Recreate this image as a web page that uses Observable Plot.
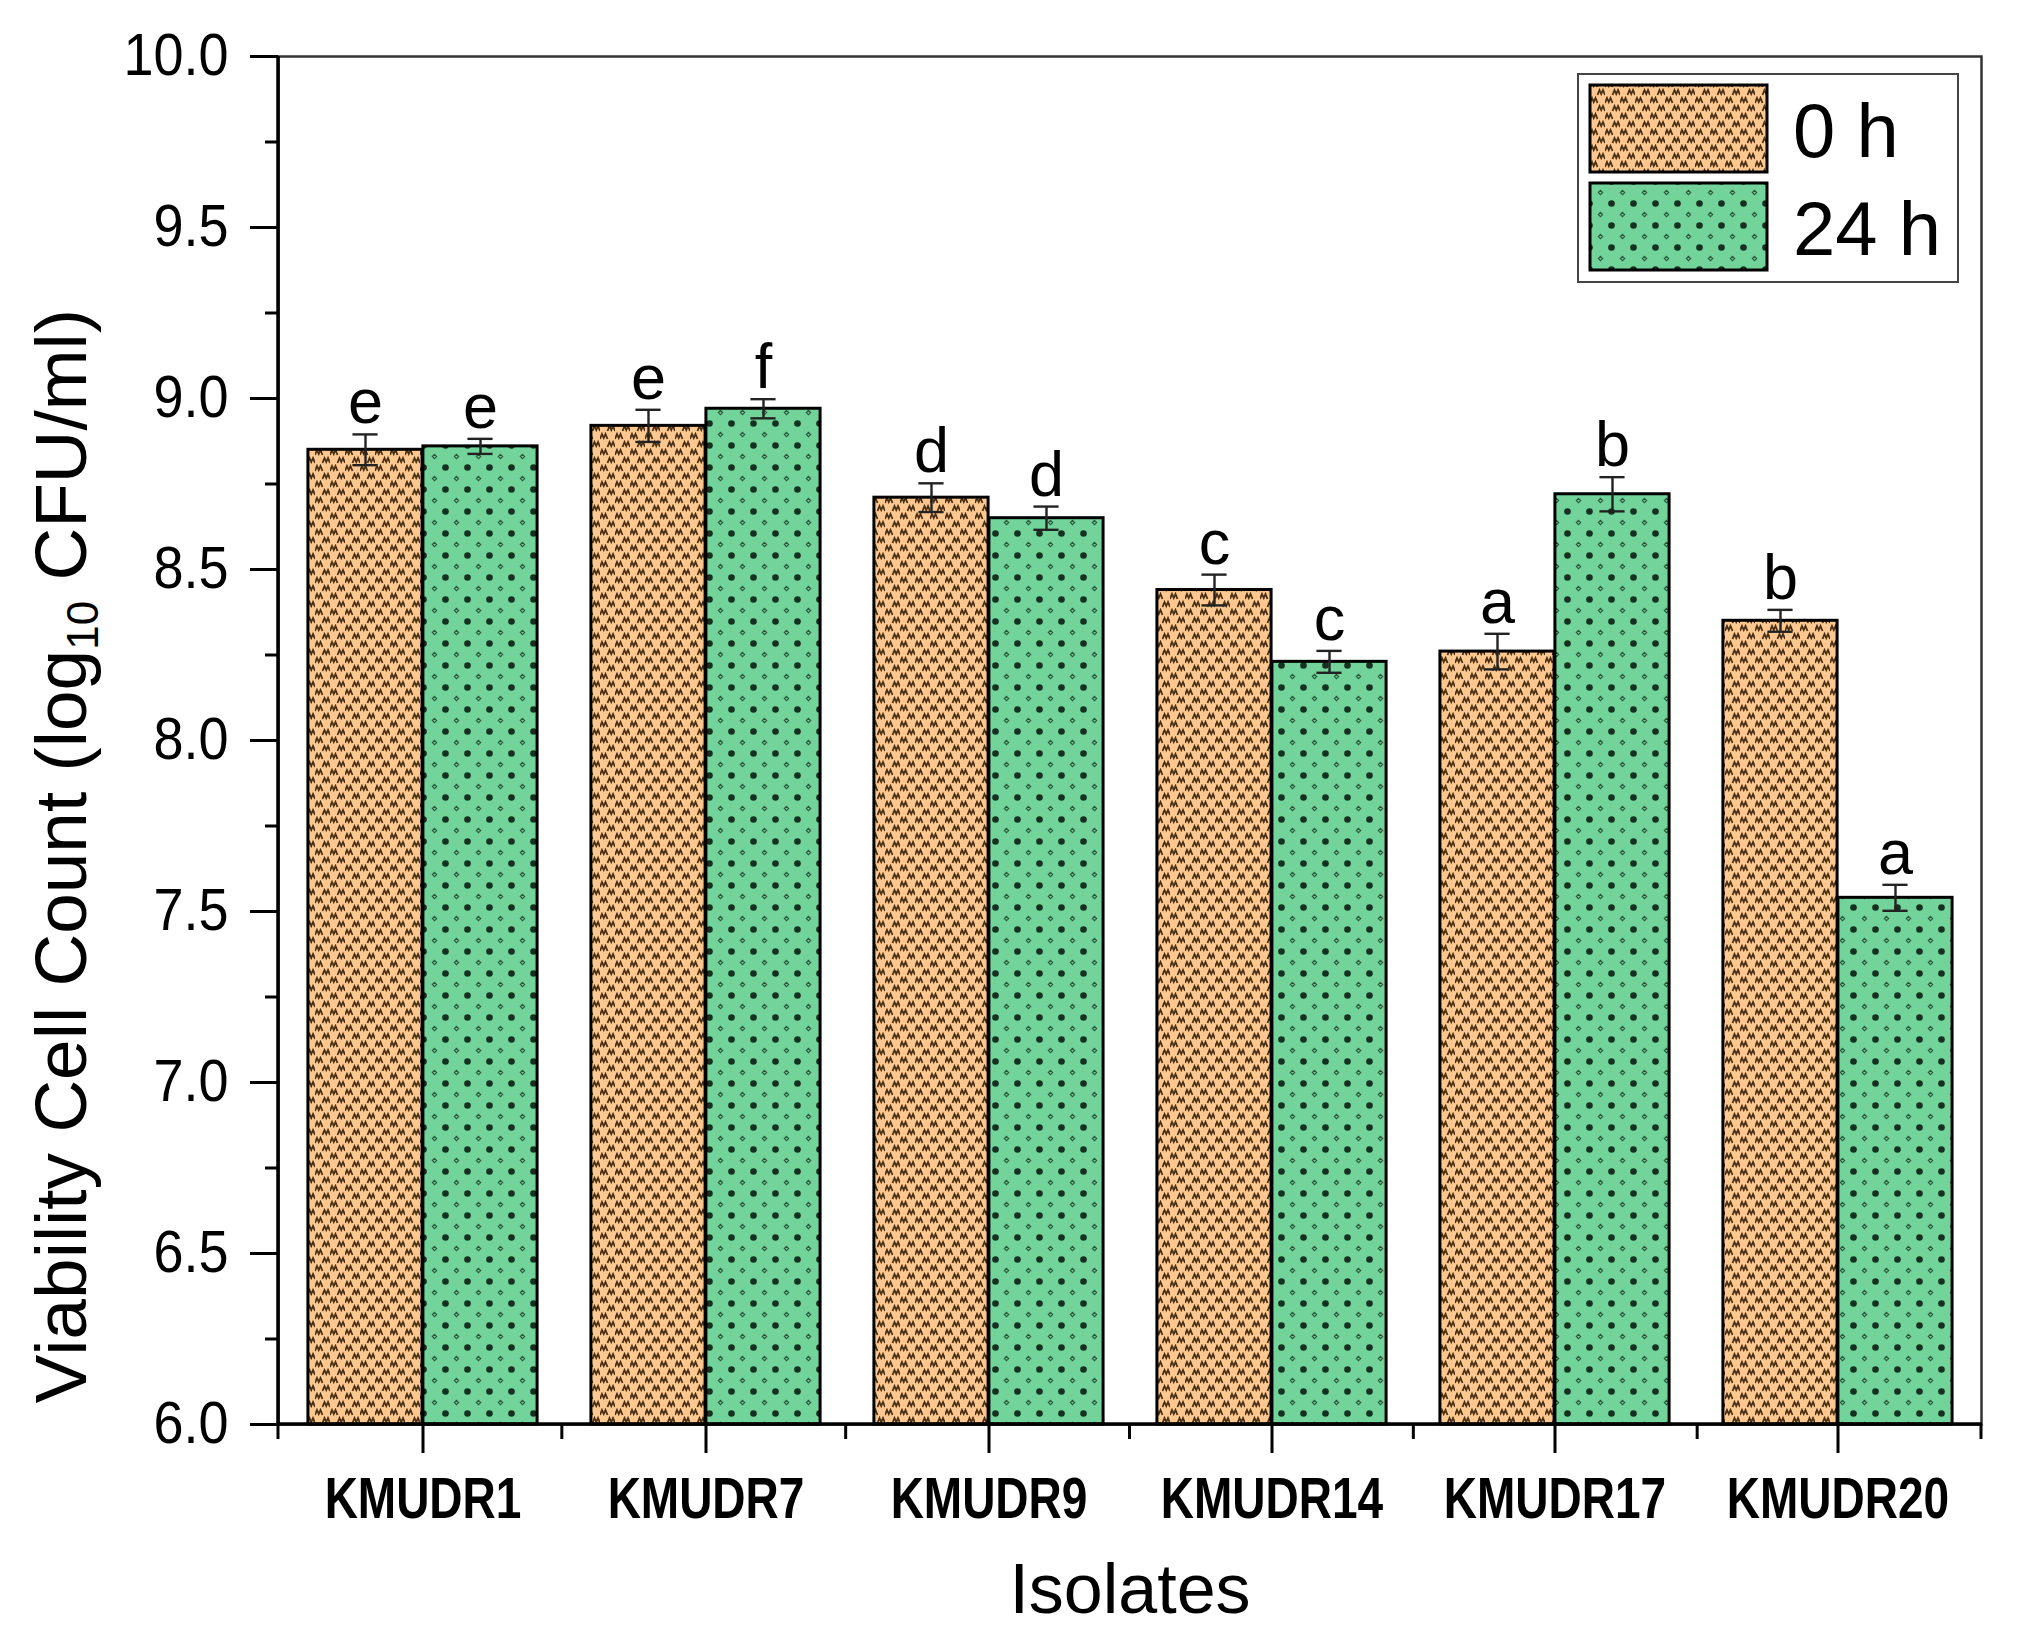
<!DOCTYPE html>
<html><head><meta charset="utf-8">
<script src="https://cdn.jsdelivr.net/npm/d3@7"></script>
<script src="https://cdn.jsdelivr.net/npm/@observablehq/plot@0.6"></script>
<style>html,body{margin:0;padding:0;background:#fff;} svg{display:block}</style>
</head><body><div id="chart"></div>
<script>
// ---- data ----
const isolates = ["KMUDR1", "KMUDR7", "KMUDR9", "KMUDR14", "KMUDR17", "KMUDR20"];
const seriesNames = ["0 h", "24 h"];
const mean0h = [8.85, 8.92, 8.71, 8.44, 8.26, 8.35];
const mean24h = [8.86, 8.97, 8.65, 8.23, 8.72, 7.54];
const sd0h = [0.045, 0.047, 0.042, 0.045, 0.052, 0.032];
const sd24h = [0.022, 0.028, 0.034, 0.032, 0.050, 0.038];
const letters0h = ["e", "e", "d", "c", "a", "b"];
const letters24h = ["e", "f", "d", "c", "b", "a"];
const yMajorTicks = [6.0, 6.5, 7.0, 7.5, 8.0, 8.5, 9.0, 9.5, 10.0];
const yMinorTicks = [6.25, 6.75, 7.25, 7.75, 8.25, 8.75, 9.25, 9.75];
const yDomain = [6, 10];
const xTitle = "Isolates";
const yTitleParts = ["Viability Cell Count (log", "10", " CFU/ml)"];

// ---- layout ----
const W = 2017, H = 1628;
const M = {top: 56, right: 36, bottom: 204, left: 278};
const band = (W - M.left - M.right) / isolates.length;
const barW = 115;
const groupPad = band / 2 - barW;
const capHalf = 13;
const FONT = "'Liberation Sans', Arial, Helvetica, sans-serif";

const rows = isolates.flatMap((iso, i) => [
  {isolate: iso, series: seriesNames[0], mean: mean0h[i], sd: sd0h[i], letter: letters0h[i]},
  {isolate: iso, series: seriesNames[1], mean: mean24h[i], sd: sd24h[i], letter: letters24h[i]}
]);
const fills = {"0 h": "url(#pat-0h)", "24 h": "url(#pat-24h)"};

function seriesMarks(s, k) {
  const d = rows.filter(r => r.series === s);
  const cx = k * barW / 2;
  const errStyle = {stroke: "#222", strokeWidth: 2.4};
  return [
    Plot.barY(d, {x: "isolate", y1: yDomain[0], y2: "mean", fill: fills[s], stroke: "#000", strokeWidth: 3,
      insetLeft: k < 0 ? groupPad : band / 2, insetRight: k < 0 ? band / 2 : groupPad}),
    Plot.ruleX(d, {x: "isolate", y1: r => r.mean - r.sd, y2: r => r.mean + r.sd, dx: cx, ...errStyle}),
    Plot.tickY(d, {x: "isolate", y: r => r.mean + r.sd, insetLeft: band / 2 + cx - capHalf, insetRight: band / 2 - cx - capHalf, ...errStyle}),
    Plot.tickY(d, {x: "isolate", y: r => r.mean - r.sd, insetLeft: band / 2 + cx - capHalf, insetRight: band / 2 - cx - capHalf, ...errStyle}),
    Plot.text(d, {x: "isolate", y: r => r.mean + r.sd, text: "letter", dx: cx, dy: -11, lineAnchor: "bottom", fontSize: 63, fill: "#000", ariaLabel: "letters"})
  ];
}

// minor x ticks at category boundaries + left/bottom axis lines
function frameExtras(index, scales, values, dims) {
  const g = d3.create("svg:g");
  const {width, height, marginLeft, marginRight, marginBottom, marginTop} = dims;
  const y0 = height - marginBottom;
  const n = isolates.length;
  const step = (width - marginLeft - marginRight) / n;
  for (let i = 0; i <= n; i++) {
    const x = marginLeft + i * step;
    g.append("line").attr("x1", x).attr("x2", x).attr("y1", y0).attr("y2", y0 + 15)
      .attr("stroke", "#000").attr("stroke-width", 3);
  }
  g.append("line").attr("x1", marginLeft).attr("x2", marginLeft).attr("y1", marginTop).attr("y2", y0 + 1.5)
    .attr("stroke", "#000").attr("stroke-width", 3.5);
  g.append("line").attr("x1", marginLeft - 1.5).attr("x2", width - marginRight + 1).attr("y1", y0).attr("y2", y0)
    .attr("stroke", "#000").attr("stroke-width", 3.5);
  return g.node();
}

const chart = Plot.plot({
  width: W, height: H,
  marginTop: M.top, marginRight: M.right, marginBottom: M.bottom, marginLeft: M.left,
  style: {fontFamily: FONT, background: "#fff", color: "#000", overflow: "visible"},
  x: {domain: isolates, padding: 0, label: null},
  y: {domain: yDomain, label: null},
  marks: [
    Plot.frame({stroke: "#333", strokeWidth: 2.5}),
    ...seriesMarks("0 h", -1),
    ...seriesMarks("24 h", 1),
    frameExtras,
    Plot.axisY(yMajorTicks, {tickSize: 28, tickPadding: 22, tickFormat: d3.format(".1f"), fontSize: 54, strokeWidth: 3, label: null}),
    Plot.axisY(yMinorTicks, {tickSize: 13, tickFormat: () => "", strokeWidth: 3, label: null}),
    Plot.axisX({tickSize: 29, tickPadding: 24, fontSize: 46, fontWeight: "bold", strokeWidth: 3, label: null}),
    Plot.text([xTitle], {text: d => d, frameAnchor: "bottom", dy: 188, lineAnchor: "bottom", fontSize: 70, fill: "#000"})
  ]
});

document.getElementById("chart").appendChild(chart);
const svg = d3.select(chart);

// vertical stretch of some texts (reference glyphs are taller than wide)
function stretch(selector, sy) {
  svg.selectAll(selector).each(function () {
    const t = d3.select(this);
    if (t.attr("data-stretched")) return;
    t.attr("data-stretched", 1);
    const tr = t.attr("transform");
    if (tr) {
      t.attr("transform", tr + ` scale(1,${sy})`);
    } else {
      const x = +t.attr("x") || 0, y = +t.attr("y") || 0;
      t.attr("x", null).attr("y", null).attr("transform", `translate(${x},${y}) scale(1,${sy})`);
    }
  });
}
stretch('g[aria-label="x-axis tick label"] text', 1.25);
stretch('g[aria-label="y-axis tick label"] text', 1.08);
stretch('g[aria-label="letters"] text', 1.12);

// patterns
const defs = svg.insert("defs", ":first-child");
const p0 = defs.append("pattern").attr("id", "pat-0h").attr("patternUnits", "userSpaceOnUse")
  .attr("width", 15).attr("height", 16);
p0.append("rect").attr("width", 15).attr("height", 16).attr("fill", "#FCC890");
p0.append("path").attr("d", "M0,7 L2,2 L3.75,6 L5.5,2 L7.5,7 M7.5,15 L9.5,10 L11.25,14 L13,10 L15,15")
  .attr("fill", "none").attr("stroke", "#4a2e12").attr("stroke-width", 1.8);
const p1 = defs.append("pattern").attr("id", "pat-24h").attr("patternUnits", "userSpaceOnUse")
  .attr("width", 22).attr("height", 22);
p1.append("rect").attr("width", 22).attr("height", 22).attr("fill", "#72D49A");
p1.append("circle").attr("cx", 5.5).attr("cy", 5.5).attr("r", 3.3).attr("fill", "#15301f");
p1.append("path").attr("d", "M16.5,14.3 L18.7,16.5 L16.5,18.7 L14.3,16.5Z")
  .attr("fill", "none").attr("stroke", "#2a573a").attr("stroke-width", 1.1);

// y axis title with subscript
const yt = svg.append("text")
  .attr("transform", "translate(86,856) rotate(-90)")
  .attr("text-anchor", "middle").attr("font-size", 73).attr("font-family", FONT).attr("fill", "#000");
yt.append("tspan").text(yTitleParts[0]);
yt.append("tspan").attr("font-size", 44).attr("dy", 12).text(yTitleParts[1]);
yt.append("tspan").attr("dy", -12).text(yTitleParts[2]);

// legend
const lg = svg.append("g").attr("font-family", FONT).attr("text-anchor", "start");
lg.append("rect").attr("x", 1578).attr("y", 74).attr("width", 380).attr("height", 208)
  .attr("fill", "#fff").attr("stroke", "#444").attr("stroke-width", 2);
seriesNames.forEach((s, i) => {
  lg.append("rect").attr("x", 1590).attr("y", 85 + i * 98).attr("width", 177).attr("height", 87)
    .attr("fill", fills[s]).attr("stroke", "#000").attr("stroke-width", 3);
  lg.append("text").attr("x", 1793).attr("y", 157 + i * 98).attr("font-size", 76)
    .attr("text-anchor", "start").attr("fill", "#000").text(s);
});
</script>
</body></html>
